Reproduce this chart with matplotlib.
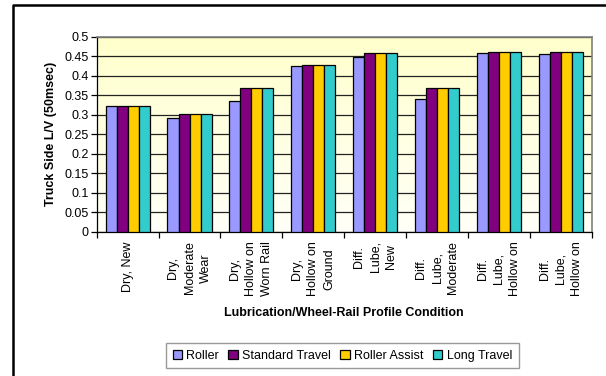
import numpy as np
import matplotlib.pyplot as plt
from matplotlib.lines import Line2D

plt.rcParams['font.family'] = ['Liberation Sans', 'DejaVu Sans']

conditions = ["Dry, New", "Dry,\nModerate\nWear", "Dry,\nHollow on\nWorn Rail",
              "Dry,\nHollow on\nGround", "Diff.\nLube,\nNew", "Diff.\nLube,\nModerate",
              "Diff.\nLube,\nHollow on", "Diff.\nLube,\nHollow on"]
roller = [0.322, 0.292, 0.334, 0.425, 0.448, 0.340, 0.459, 0.455]
standard_travel = [0.322, 0.303, 0.368, 0.428, 0.459, 0.368, 0.462, 0.462]
roller_assist = [0.322, 0.303, 0.368, 0.428, 0.459, 0.368, 0.462, 0.462]
long_travel = [0.322, 0.303, 0.368, 0.428, 0.459, 0.368, 0.462, 0.462]

series = [("Roller", roller, "#9999FF"),
          ("Standard Travel", standard_travel, "#800080"),
          ("Roller Assist", roller_assist, "#FFCC00"),
          ("Long Travel", long_travel, "#33CCCC")]

fig = plt.figure(figsize=(6.06, 3.76), dpi=100)
ax = fig.add_axes([0.1596, 0.3838, 0.8168, 0.5186])

x = np.arange(len(conditions))
width = 0.178
handles = []
for i, (name, vals, color) in enumerate(series):
    bars = ax.bar(x + (i - 1.5) * width, vals, width, color=color,
                  edgecolor="black", linewidth=0.9, label=name, zorder=3)
    handles.append(bars)

# yellow-to-white gradient behind the plot
grad = np.linspace(0, 1, 256).reshape(-1, 1)
cmap = plt.matplotlib.colors.LinearSegmentedColormap.from_list(
    "bg", ["#FFFFF8", "#FFFFCC"])
ax.imshow(grad, aspect="auto", cmap=cmap, origin="lower",
          extent=[-0.5, 7.5, 0, 0.5], zorder=0)

ax.set_xlim(-0.5, 7.5)
ax.set_ylim(0, 0.5)
ax.set_yticks(np.arange(0, 0.501, 0.05))
ax.set_yticklabels(["0", "0.05", "0.1", "0.15", "0.2", "0.25", "0.3", "0.35",
                    "0.4", "0.45", "0.5"], fontsize=9)
ax.yaxis.grid(True, color="#222222", linewidth=0.9, zorder=1)

ax.set_xticks(np.arange(-0.5, 8, 1))
ax.set_xticklabels([])
ax.set_xticks(x, minor=True)
ax.set_xticklabels(conditions, minor=True, rotation=90, fontsize=9,
                   ha="center", va="top", multialignment="center",
                   linespacing=1.45)
ax.tick_params(axis="x", which="minor", length=0, pad=7)
ax.tick_params(axis="x", which="major", length=4, direction="out", width=0.9)
ax.tick_params(axis="y", length=4, direction="out", width=0.9, pad=2)

for side in ["top", "right"]:
    ax.spines[side].set_color("#808080")
    ax.spines[side].set_linewidth(1.2)
for side in ["left", "bottom"]:
    ax.spines[side].set_color("black")
    ax.spines[side].set_linewidth(0.9)

ax.set_ylabel("Truck Side L/V (50msec)", fontsize=9, fontweight="bold", labelpad=5)
ax.set_xlabel("Lubrication/Wheel-Rail Profile Condition", fontsize=9,
              fontweight="bold", labelpad=8)

leg = fig.legend(handles=handles, loc="center", bbox_to_anchor=(0.565, 0.0545),
                 ncol=4, fontsize=9, frameon=True, fancybox=False,
                 handlelength=0.75, handleheight=0.75, handletextpad=0.35,
                 columnspacing=0.75, borderpad=0.55, borderaxespad=0)
leg.get_frame().set_edgecolor("#808080")
leg.get_frame().set_linewidth(1.0)

# outer chart border (left and top edges)
fig.add_artist(Line2D([12.7 / 606, 12.7 / 606, 1.0], [0.0, 1 - 5 / 376, 1 - 5 / 376],
                      color="black", linewidth=1.8, transform=fig.transFigure))

fig.savefig("out.png", dpi=100)
